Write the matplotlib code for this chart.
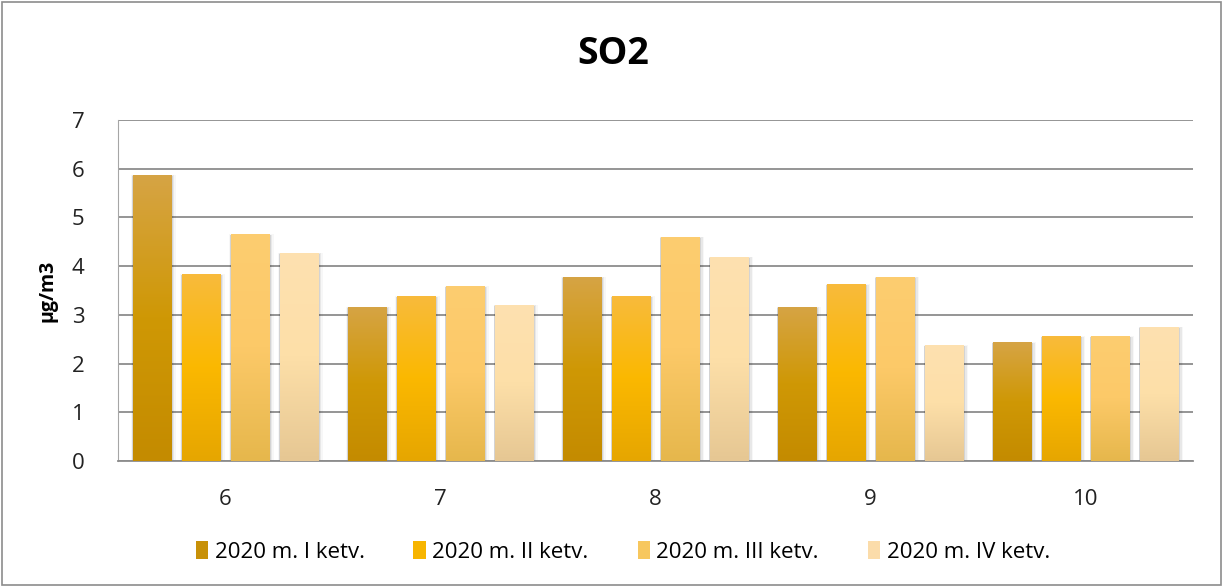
import numpy as np
import matplotlib
matplotlib.use("Agg")
from matplotlib import pyplot as plt
from matplotlib.colors import LinearSegmentedColormap
from matplotlib.patches import Rectangle

plt.rcParams['font.family'] = ['Liberation Sans Narrow', 'Open Sans', 'DejaVu Sans']

categories = ['6', '7', '8', '9', '10']
series_labels = ['2020 m. I ketv.', '2020 m. II ketv.', '2020 m. III ketv.', '2020 m. IV ketv.']
q1 = [5.88, 3.17, 3.78, 3.17, 2.44]
q2 = [3.83, 3.38, 3.38, 3.63, 2.56]
q3 = [4.65, 3.59, 4.60, 3.78, 2.56]
q4 = [4.27, 3.21, 4.19, 2.38, 2.75]
values = [q1, q2, q3, q4]

# gradient stops: top, middle, bottom
gradients = [
    ['#d6a445', '#cf9805', '#c48b00'],
    ['#f8bb3c', '#fbb800', '#e6a600'],
    ['#fdcd70', '#fcc968', '#e6b74c'],
    ['#fee1b0', '#fddfa8', '#e6c793'],
]
legend_colors = ['#c89108', '#f7b500', '#f7c75e', '#fbdcaa']

fig = plt.figure(figsize=(12.26, 5.87), dpi=100)
ax = fig.add_axes([0.0962, 0.2147, 0.877, 0.5809])

x = np.arange(len(categories))
slot = 0.228
width = 0.18
for i, (vals, stops) in enumerate(zip(values, gradients)):
    cmap = LinearSegmentedColormap.from_list('g%d' % i, stops[::-1])
    pos = x + (i - 1.5) * slot
    for px, v in zip(pos, vals):
        # soft shadow, mostly to the right
        for k, a in enumerate([0.09, 0.06, 0.03]):
            d = 0.006 * (k + 1)
            ax.add_patch(Rectangle((px - width / 2 - d * 0.3, 0), width + d * 1.5, v - 0.02 + 0.01 * k,
                                   facecolor='black', alpha=a, linewidth=0, zorder=2))
        grad = np.linspace(0, 1, 256).reshape(-1, 1)
        im = ax.imshow(grad, cmap=cmap, aspect='auto', origin='lower',
                       extent=[px - width / 2, px + width / 2, 0, v], zorder=3)
        clip = Rectangle((px - width / 2, 0), width, v, transform=ax.transData)
        im.set_clip_path(clip)

ax.set_xlim(-0.5, len(categories) - 0.5)
ax.set_ylim(0, 7)
ax.set_yticks(range(0, 8))
ax.set_xticks(x)
ax.set_xticklabels(categories)
ax.tick_params(axis='both', length=0, labelsize=16, colors='#222222')
ax.tick_params(axis='x', pad=20)
ax.tick_params(axis='y', pad=24)
ax.yaxis.grid(True, color='#8c8c8c', linewidth=1.3, zorder=0)
ax.set_axisbelow(True)
for s in ['top', 'right']:
    ax.spines[s].set_visible(False)
ax.spines['left'].set_color('#a6a6a6')
ax.spines['bottom'].set_color('#8c8c8c')
ax.spines['bottom'].set_linewidth(1.3)
ax.set_ylabel('µg/m3', fontsize=14, fontweight='bold', labelpad=10)

fig.suptitle('SO2', fontsize=27, fontweight='bold', y=0.94)

handles = [Rectangle((0, 0), 1, 1, facecolor=c, edgecolor='none') for c in legend_colors]
fig.legend(handles, series_labels, loc='center', bbox_to_anchor=(0.508, 0.06), ncol=4,
           frameon=False, fontsize=16, handlelength=0.55, handleheight=0.9,
           handletextpad=0.3, columnspacing=2.2)

fig.add_artist(Rectangle((0.002, 0.003), 0.994, 0.993, transform=fig.transFigure,
                         fill=False, edgecolor='#8c8c8c', linewidth=1.2))

fig.savefig('out.png', dpi=100)
